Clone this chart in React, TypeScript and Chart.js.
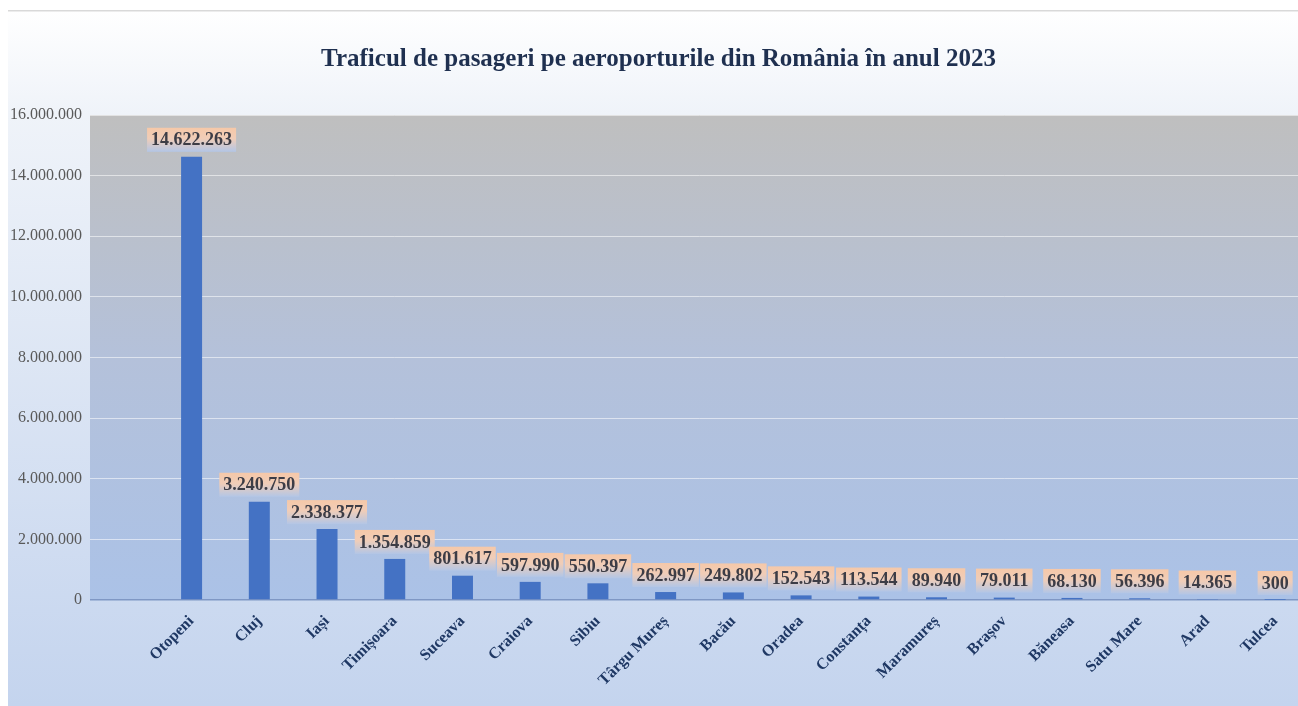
import React, { useEffect, useRef } from "react";
import { Chart, registerables } from "chart.js";

Chart.register(...registerables);

const titleText = "Traficul de pasageri pe aeroporturile din România în anul 2023";
const categories = [
  "Otopeni", "Cluj", "Iași", "Timișoara", "Suceava", "Craiova", "Sibiu",
  "Târgu Mureș", "Bacău", "Oradea", "Constanța", "Maramureș", "Brașov",
  "Băneasa", "Satu Mare", "Arad", "Tulcea",
];
const passengers = [
  14622263, 3240750, 2338377, 1354859, 801617, 597990, 550397,
  262997, 249802, 152543, 113544, 89940, 79011, 68130, 56396, 14365, 300,
];
const yTicks = [0, 2000000, 4000000, 6000000, 8000000, 10000000, 12000000, 14000000, 16000000];

const SERIF = "'Liberation Serif', 'Times New Roman', serif";

function fmt(n: number): string {
  return String(Math.round(n)).replace(/\B(?=(\d{3})+(?!\d))/g, ".");
}

const backgroundPlugin = {
  id: "bgPlugin",
  beforeDraw(chart: any) {
    const { ctx, width, height, chartArea } = chart;
    ctx.save();
    const g = ctx.createLinearGradient(0, 0, 0, height);
    g.addColorStop(0, "#ffffff");
    g.addColorStop(0.15, "#eff3f9");
    g.addColorStop(1, "#c4d4ee");
    ctx.fillStyle = g;
    ctx.fillRect(0, 0, width, height);
    ctx.fillStyle = "#d9d9d9";
    ctx.fillRect(0, 0, width, 1.5);
    const pg = ctx.createLinearGradient(0, chartArea.top, 0, chartArea.bottom);
    pg.addColorStop(0, "#bfbfbf");
    pg.addColorStop(0.5, "#b4c1da");
    pg.addColorStop(1, "#abc2e7");
    ctx.fillStyle = pg;
    ctx.fillRect(chartArea.left, chartArea.top, chartArea.right - chartArea.left, chartArea.bottom - chartArea.top);
    ctx.restore();
  },
};

const labelPlugin = {
  id: "valueLabels",
  afterDatasetsDraw(chart: any) {
    const { ctx } = chart;
    const meta = chart.getDatasetMeta(0);
    const data = chart.data.datasets[0].data;
    ctx.save();
    ctx.font = `bold 18px ${SERIF}`;
    ctx.textAlign = "center";
    ctx.textBaseline = "middle";
    meta.data.forEach((bar: any, i: number) => {
      const v = data[i];
      if (v === null || v === undefined) return;
      const text = fmt(v);
      const w = ctx.measureText(text).width + 8;
      const h = 24;
      const bottom = bar.y - 5;
      const top = bottom - h;
      const left = bar.x - w / 2;
      const g = ctx.createLinearGradient(0, top, 0, bottom);
      g.addColorStop(0, "#f6c8a8");
      g.addColorStop(0.45, "#f0cdb8");
      g.addColorStop(1, "#b3c6e6");
      ctx.fillStyle = g;
      ctx.fillRect(left, top, w, h);
      ctx.fillStyle = "#3d3d46";
      ctx.fillText(text, bar.x, top + h / 2 + 1);
    });
    ctx.restore();
  },
};

export default function App() {
  const ref = useRef<HTMLCanvasElement | null>(null);
  useEffect(() => {
    if (!ref.current) return;
    const chart = new Chart(ref.current, {
      type: "bar",
      data: {
        labels: ["", ...categories],
        datasets: [
          {
            data: [null, ...passengers] as any,
            backgroundColor: "#4472c4",
            barPercentage: 1,
            categoryPercentage: 0.31,
          },
        ],
      },
      options: {
        responsive: false,
        animation: false,
        layout: { padding: { left: 0, right: 1, top: 0, bottom: 0 } },
        plugins: {
          legend: { display: false },
          tooltip: { enabled: false },
          title: {
            display: true,
            text: titleText,
            color: "#1f3050",
            font: { family: SERIF, size: 25, weight: "bold" },
            padding: { top: 35, bottom: 40 },
          },
        },
        scales: {
          x: {
            grid: { display: false, drawTicks: false },
            border: { display: false },
            afterFit(scale: any) {
              scale.height = 106;
            },
            ticks: {
              autoSkip: false,
              maxRotation: 45,
              minRotation: 45,
              padding: 12,
              color: "#1f3864",
              font: { family: SERIF, size: 16, weight: "bold" },
            },
          },
          y: {
            min: 0,
            max: 16000000,
            afterFit(scale: any) {
              scale.width = 82;
            },
            afterBuildTicks(scale: any) {
              scale.ticks = yTicks.map((v) => ({ value: v }));
            },
            border: { display: false },
            grid: {
              drawTicks: false,
              color: (c: any) => (c.tick && c.tick.value === 0 ? "#7f97c4" : "rgba(255,255,255,0.55)"),
              lineWidth: (c: any) => (c.tick && c.tick.value === 0 ? 1.5 : 1),
            },
            ticks: {
              padding: 8,
              color: "#595959",
              font: { family: SERIF, size: 16 },
              callback: (v: any) => fmt(Number(v)),
            },
          },
        },
      },
      plugins: [backgroundPlugin, labelPlugin],
    });
    return () => chart.destroy();
  }, []);
  return (
    <div
      style={{
        position: "fixed",
        left: 8,
        top: 10,
        width: 1290,
        height: 696,
        overflow: "hidden",
      }}
    >
      <canvas ref={ref} width={1302} height={696} style={{ width: 1302, height: 696, display: "block" }} />
    </div>
  );
}
